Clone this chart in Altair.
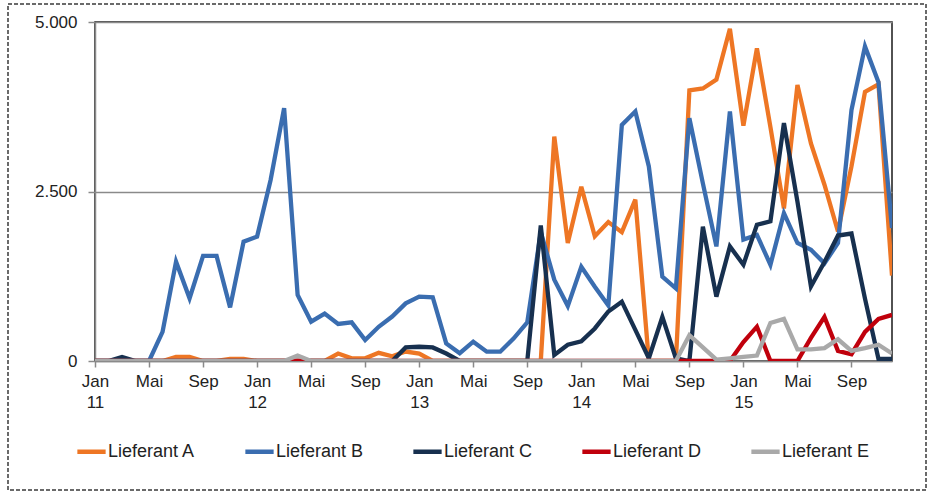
import json
import altair as alt
import pandas as pd

# Month index 0 = Jan 2011 ... 59 = Dec 2015
months = list(range(60))

series_names = ["Lieferant A", "Lieferant B", "Lieferant C", "Lieferant D", "Lieferant E"]
series_colors = ["#EE7624", "#3A6DB0", "#17304F", "#C0000C", "#A9A9A9"]

lieferant_a = [0, 0, 0, 0, 0, 0, 60, 60, 0, 0, 30, 30,
               0, 0, 0, 0, 0, 0, 110, 40, 40, 120, 70, 140,
               110, 0, 0, 0, 0, 0, 0, 0, 0, 0, 3310, 1740,
               2570, 1840, 2050, 1900, 2380, 0, 0, 0, 3990, 4020, 4150, 4900,
               3470, 4610, 3450, 2250, 4070, 3210, 2600, 1910, 2870, 3970, 4080, 1260]
lieferant_b = [0, 0, 0, 0, 0, 430, 1465, 925, 1550, 1550, 790, 1760,
               1835, 2670, 3730, 975, 580, 700, 546, 570, 310, 505, 655, 850,
               950, 940, 260, 115, 285, 137, 137, 334, 570, 1900, 1200, 810,
               1390, 1096, 820, 3480, 3680, 2870, 1243, 1072, 3580, 2620, 1690, 3680,
               1790, 1860, 1420, 2180, 1740, 1640, 1440, 1740, 3700, 4640, 4110, 1960]
lieferant_c = [0, 0, 60, 0, 0, 0, 0, 0, 0, 0, 0, 0,
               0, 0, 0, 0, 0, 0, 0, 0, 0, 0, 0, 200,
               210, 200, 110, 0, 0, 0, 0, 0, 0, 2000, 90, 240,
               290, 480, 730, 875, 460, 40, 650, 40, 0, 1980, 950, 1690,
               1420, 2010, 2060, 3510, 2350, 1100, 1460, 1850, 1880, 920, 30, 30]
lieferant_d = [0, 0, 0, 0, 0, 0, 0, 0, 0, 0, 0, 0,
               0, 0, 0, 0, 0, 0, 0, 0, 0, 0, 0, 0,
               0, 0, 0, 0, 0, 0, 0, 0, 0, 0, 0, 0,
               0, 0, 0, 0, 0, 0, 0, 0, 0, 0, 0, 0,
               280, 506, 0, 0, 0, 340, 650, 150, 100, 430, 620, 680]
lieferant_e = [0, 0, 0, 0, 0, 0, 0, 0, 0, 0, 0, 0,
               0, 0, 0, 80, 0, 0, 0, 0, 0, 0, 0, 0,
               0, 0, 0, 0, 0, 0, 0, 0, 0, 0, 0, 0,
               0, 0, 0, 0, 0, 0, 0, 0, 380, 200, 20, 40,
               60, 80, 560, 620, 170, 170, 190, 320, 150, 190, 240, 110]

tick_positions = [0, 4, 8, 12, 16, 20, 24, 28, 32, 36, 40, 44, 48, 52, 56]
tick_labels = [["Jan", "11"], "Mai", "Sep", ["Jan", "12"], "Mai", "Sep",
               ["Jan", "13"], "Mai", "Sep", ["Jan", "14"], "Mai", "Sep",
               ["Jan", "15"], "Mai", "Sep"]
y_ticks = [0, 2500, 5000]

all_series = [lieferant_a, lieferant_b, lieferant_c, lieferant_d, lieferant_e]
rows = []
for name, vals in zip(series_names, all_series):
    for m, v in zip(months, vals):
        rows.append({"monat": m, "wert": v, "lieferant": name})
df = pd.DataFrame(rows)

FONT = "Liberation Sans"
label_expr_x = json.dumps(tick_labels) + "[round(datum.value / 4)]"

lines = alt.Chart(df).mark_line(strokeWidth=4.3, clip=True).encode(
    x=alt.X("monat:Q",
            scale=alt.Scale(domain=[0, 59], nice=False, zero=False),
            axis=alt.Axis(values=tick_positions, labelExpr=label_expr_x,
                          title=None, grid=False, tickSize=6, tickWidth=1.5,
                          tickColor="#8a8a8a", domainColor="#8a8a8a", domainWidth=1.5,
                          labelPadding=6, labelFontSize=17, labelFont=FONT,
                          labelColor="#222222", labelLineHeight=21,
                          labelAlign="center", labelFlush=False, labelOverlap=False)),
    y=alt.Y("wert:Q",
            scale=alt.Scale(domain=[0, 5000], nice=False),
            axis=alt.Axis(values=y_ticks,
                          labelExpr="replace(format(datum.value, ','), ',', '.')",
                          title=None, grid=True, gridColor="#8a8a8a", gridWidth=1.5,
                          tickSize=7, tickWidth=1.5, tickColor="#8a8a8a",
                          domainColor="#8a8a8a", domainWidth=1.5,
                          labelPadding=11, labelFontSize=17, labelFont=FONT,
                          labelColor="#222222")),
    color=alt.Color("lieferant:N",
                    scale=alt.Scale(domain=series_names, range=series_colors),
                    legend=alt.Legend(orient="none", legendX=-20, legendY=413,
                                      direction="horizontal", columns=5,
                                      symbolType="stroke", symbolSize=800,
                                      symbolStrokeWidth=4.5, labelFontSize=18,
                                      labelFont=FONT, labelColor="#222222",
                                      labelOffset=0, columnPadding=40,
                                      title=None, padding=0)),
    order=alt.Order("monat:Q"),
)

border = alt.Chart(pd.DataFrame({"a": [0]})).mark_rect(
    fill=None, stroke="#3a3a3a", strokeWidth=1.5, strokeDash=[4, 2], clip=False
).encode(
    x=alt.value(8 - 95), x2=alt.value(926 - 95),
    y=alt.value(4 - 22), y2=alt.value(490 - 22),
)

chart = alt.layer(lines, border).properties(
    width=797, height=339,
    autosize=alt.AutoSizeParams(type="none"),
    padding={"left": 95, "top": 22, "right": 40, "bottom": 130},
    background="white",
).configure_view(stroke="#1a1a1a", strokeWidth=1.5)

chart.save("out.html", embed_options={"renderer": "svg", "actions": False})
